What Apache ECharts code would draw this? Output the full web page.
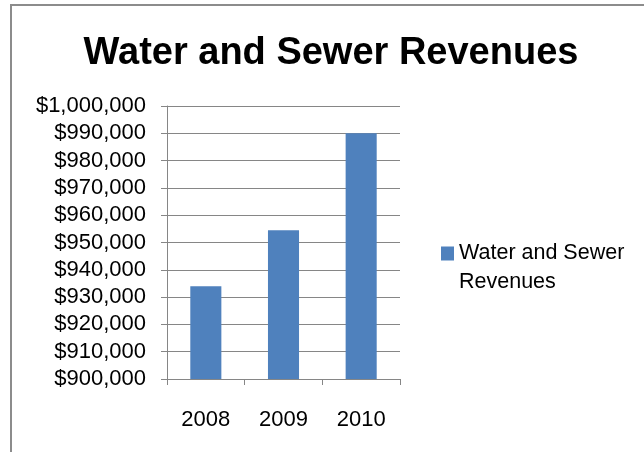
<!DOCTYPE html>
<html>
<head>
<meta charset="utf-8">
<script src="https://cdn.jsdelivr.net/npm/echarts@6/dist/echarts.min.js"></script>
<style>
  html, body { margin: 0; padding: 0; background: #fff; }
  #chart { width: 644px; height: 452px; }
</style>
</head>
<body>
<div id="chart"></div>
<script>
// Annual water and sewer revenues
const years = ['2008', '2009', '2010'];
const revenues = [934000, 954500, 990000];
const seriesName = 'Water and Sewer Revenues';
const titleText = 'Water and Sewer Revenues';

const FONT = '"Liberation Sans", Arial, sans-serif';
const GRAY = '#868686';

function dollars(v) {
  return '$' + v.toLocaleString('en-US');
}

const chart = echarts.init(document.getElementById('chart'));
chart.setOption({
  backgroundColor: '#ffffff',
  animation: false,
  title: {
    text: titleText,
    left: 326,
    textAlign: 'center',
    top: 30,
    textStyle: { fontFamily: FONT, fontWeight: 'bold', fontSize: 38, color: '#000' }
  },
  graphic: [{
    type: 'rect',
    shape: { x: 11, y: 5, width: 700, height: 600 },
    style: { fill: 'none', stroke: '#8c8c8c', lineWidth: 2 },
    silent: true
  }],
  legend: {
    left: 441,
    top: 210,
    padding: 0,
    orient: 'vertical',
    itemWidth: 13,
    itemHeight: 14,
    itemGap: 10,
    icon: 'rect',
    // leading empty line keeps the swatch level with the first text line
    formatter: function () { return '\nWater and Sewer\nRevenues'; },
    textStyle: {
      fontFamily: FONT, fontSize: 21.5, color: '#000', lineHeight: 29
    },
    data: [seriesName]
  },
  grid: { left: 167, top: 106, width: 233, height: 273 },
  xAxis: {
    type: 'category',
    data: years,
    axisLine: { lineStyle: { color: GRAY, width: 1 } },
    axisTick: { show: true, length: 6, lineStyle: { color: GRAY } },
    axisLabel: { margin: 30, fontFamily: FONT, fontSize: 22, color: '#000' }
  },
  yAxis: {
    type: 'value',
    min: 900000,
    max: 1000000,
    interval: 10000,
    axisLine: { show: true, lineStyle: { color: GRAY, width: 1 } },
    axisTick: { show: true, length: 6, lineStyle: { color: GRAY } },
    splitLine: { show: true, lineStyle: { color: GRAY, width: 1 } },
    axisLabel: { margin: 21, fontFamily: FONT, fontSize: 22, color: '#000', formatter: dollars }
  },
  series: [{
    name: seriesName,
    type: 'bar',
    data: revenues,
    barWidth: '40%',
    itemStyle: { color: '#4F81BD' }
  }]
});
</script>
</body>
</html>
